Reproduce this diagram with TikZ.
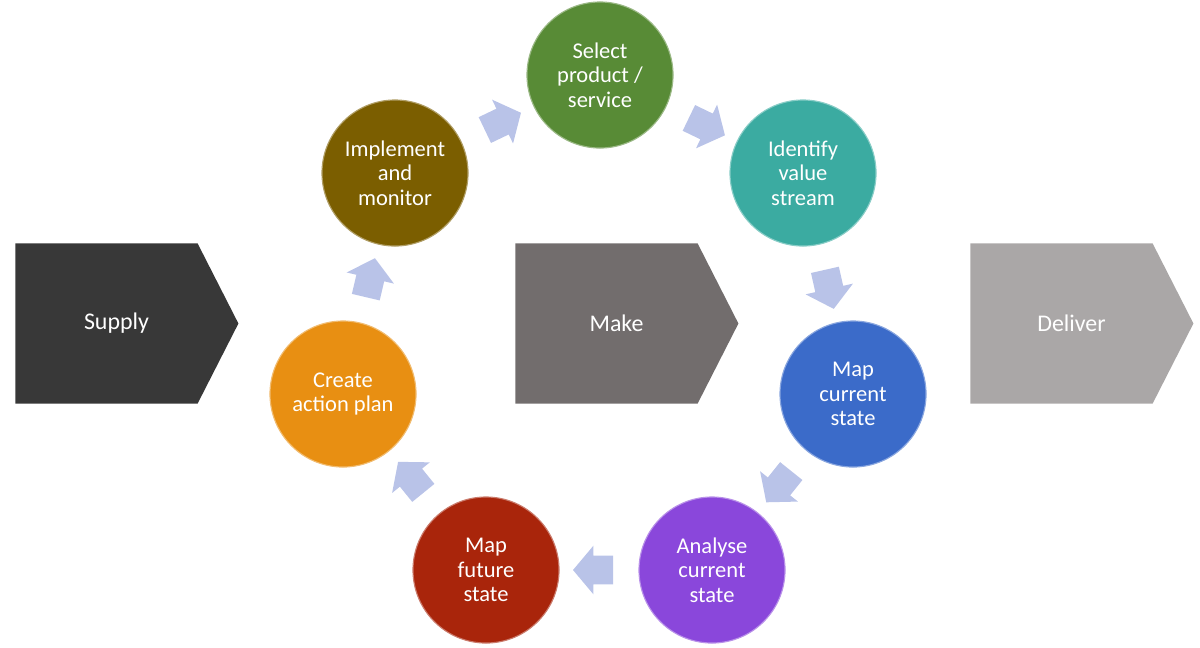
\documentclass[tikz,border=0pt]{standalone}
\usepackage{fontspec}
\setmainfont{Carlito}
\usetikzlibrary{shapes.symbols, shapes.arrows}

\definecolor{supplygrey}{HTML}{383838}
\definecolor{makegrey}{HTML}{726D6D}
\definecolor{delivergrey}{HTML}{AAA7A7}
\definecolor{selectgreen}{HTML}{588B36}
\definecolor{identifyteal}{HTML}{3BABA1}
\definecolor{mapblue}{HTML}{3B6BC9}
\definecolor{analysepurple}{HTML}{8A47DB}
\definecolor{futurered}{HTML}{A9250B}
\definecolor{planorange}{HTML}{E88F12}
\definecolor{implolive}{HTML}{7B5E00}
\definecolor{flowblue}{HTML}{B9C3E8}

\begin{document}
\begin{tikzpicture}[x=0.025cm, y=-0.025cm,
  font=\fontsize{16}{17.5}\selectfont,
  stage/.style={signal, signal to=east, signal pointer angle=126,
    minimum width=5.575cm, minimum height=4cm, inner sep=0pt,
    text=white, font=\fontsize{17}{18}\selectfont,
    execute at begin node=\hspace*{5mm}},
  phase/.style={circle, minimum size=3.65cm, inner sep=0pt, align=center,
    text=white, fill=#1, draw=white!40!#1, line width=0.8pt},
  flow/.style={single arrow, single arrow tip angle=100,
    single arrow head extend=0.25cm, minimum height=1cm,
    inner xsep=0.2cm, inner ysep=0.35cm, fill=flowblue,
    midway, sloped, allow upside down}]
\useasboundingbox (0,0) rectangle (1200,647);

% value chain
\node[stage, fill=supplygrey] (supply) at (106.5,323.5) {Supply};
\node[stage, fill=makegrey] (make) at (606.5,323.5) {Make};
\node[stage, fill=delivergrey] (deliver) at (1061.5,323.5) {Deliver};

% improvement cycle
\node[phase=selectgreen] (select) at (600,75) {Select\\product /\\service};
\node[phase=identifyteal] (identify) at (803,173) {Identify\\value\\stream};
\node[phase=mapblue] (current) at (853,394) {Map\\current\\state};
\node[phase=analysepurple] (analyse) at (712,570) {Analyse\\current\\state};
\node[phase=futurered] (future) at (486,570) {Map\\future\\state};
\node[phase=planorange] (plan) at (343,394) {Create\\action plan};
\node[phase=implolive] (implement) at (395,173) {Implement\\and\\monitor};

\foreach \from/\to in {implement/select, select/identify, identify/current,
    current/analyse, analyse/future, future/plan, plan/implement}
  \path (\from) -- (\to) node[flow] {};
\end{tikzpicture}
\end{document}
